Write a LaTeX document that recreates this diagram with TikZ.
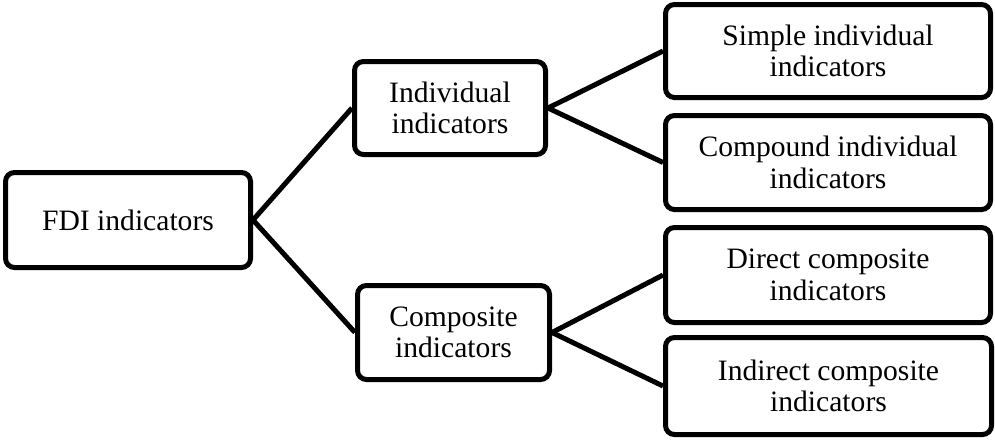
\documentclass[tikz,border=0pt]{standalone}
\usepackage{fontspec}
\setmainfont{Liberation Serif}
\begin{document}
\begin{tikzpicture}[x=1pt,y=-1pt,
  box/.style={draw=black, line width=5pt, rounded corners=9pt, fill=white,
    align=center, inner sep=0pt,
    font=\fontsize{29.6}{31.5}\selectfont},
  link/.style={line width=5pt}]
\useasboundingbox (0,0) rectangle (995,440);
\node[box, minimum width=245, minimum height=95] (fdi) at (128,220) {FDI indicators};
\node[box, minimum width=191, minimum height=93] (ind) at (450,108) {Individual\\indicators};
\node[box, minimum width=192, minimum height=94] (comp) at (453.5,332.5) {Composite\\indicators};
\node[box, minimum width=325, minimum height=93] (simple) at (828,51) {Simple individual\\indicators};
\node[box, minimum width=325, minimum height=94] (compound) at (828,162.5) {Compound individual\\indicators};
\node[box, minimum width=325, minimum height=95] (direct) at (828,275) {Direct composite\\indicators};
\node[box, minimum width=326, minimum height=97] (indirect) at (828.5,386) {Indirect composite\\indicators};
\draw[link] (fdi.east) -- (ind.west);
\draw[link] (fdi.east) -- (comp.west);
\draw[link] (ind.east) -- (simple.west);
\draw[link] (ind.east) -- (compound.west);
\draw[link] (comp.east) -- (direct.west);
\draw[link] (comp.east) -- (indirect.west);
\end{tikzpicture}
\end{document}
